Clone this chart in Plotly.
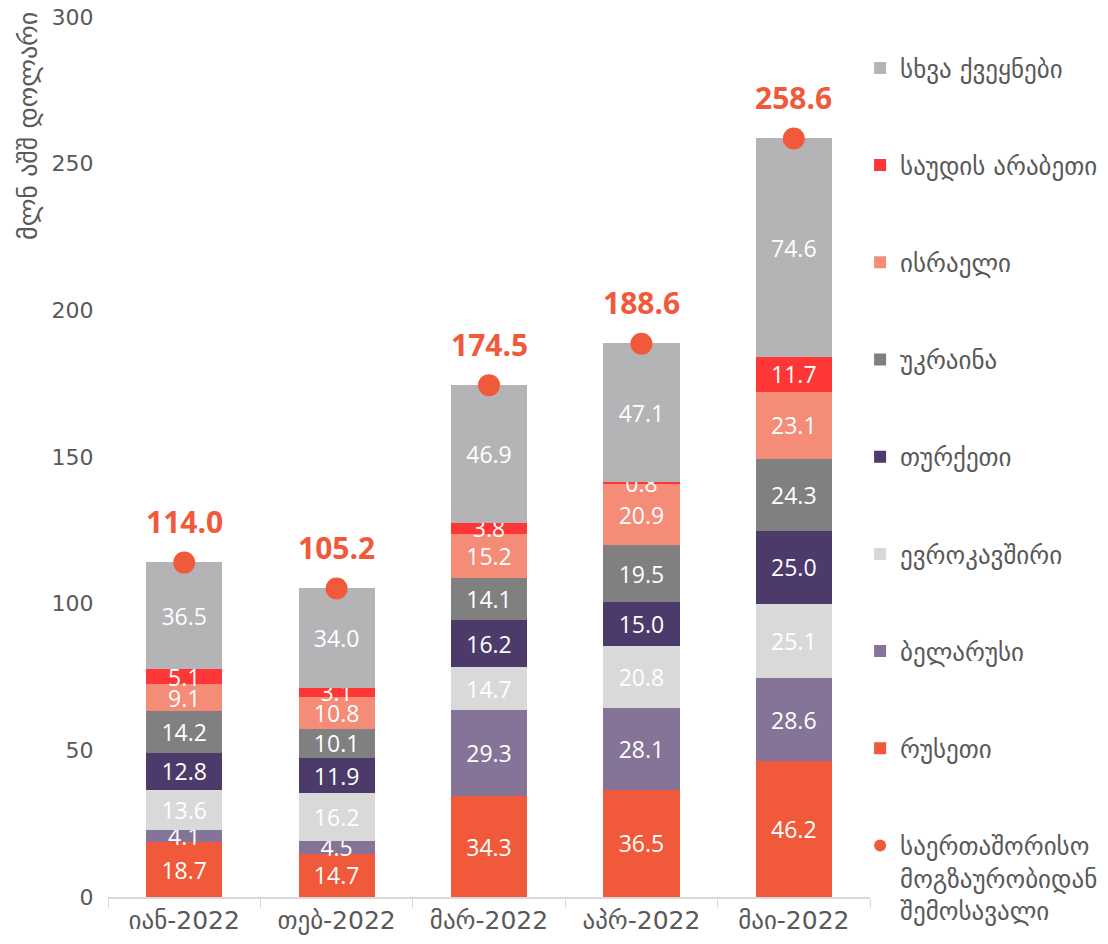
import plotly.graph_objects as go

months = ["იან-2022", "თებ-2022", "მარ-2022", "აპრ-2022", "მაი-2022"]

russia = [18.7, 14.7, 34.3, 36.5, 46.2]
belarus = [4.1, 4.5, 29.3, 28.1, 28.6]
eu = [13.6, 16.2, 14.7, 20.8, 25.1]
turkey = [12.8, 11.9, 16.2, 15.0, 25.0]
ukraine = [14.2, 10.1, 14.1, 19.5, 24.3]
israel = [9.1, 10.8, 15.2, 20.9, 23.1]
saudi = [5.1, 3.1, 3.8, 0.8, 11.7]
other = [36.5, 34.0, 46.9, 47.1, 74.6]
total = [114.0, 105.2, 174.5, 188.6, 258.6]

series = [
    ("რუსეთი", russia, "#F05A3A"),
    ("ბელარუსი", belarus, "#857497"),
    ("ევროკავშირი", eu, "#D9D9D9"),
    ("თურქეთი", turkey, "#4B3A6A"),
    ("უკრაინა", ukraine, "#808080"),
    ("ისრაელი", israel, "#F48C78"),
    ("საუდის არაბეთი", saudi, "#FF3636"),
    ("სხვა ქვეყნები", other, "#B4B4B6"),
]
total_name = "საერთაშორისო<br>მოგზაურობიდან<br>შემოსავალი"
y_title = "მლნ აშშ დოლარი"

FONT = "Open Sans, DejaVu Sans, sans-serif"
GEO = "DejaVu Sans, sans-serif"

fig = go.Figure()

n = len(series)
for i, (name, vals, col) in enumerate(series):
    fig.add_trace(go.Bar(
        x=months, y=vals, name=name, legendgroup=name,
        legendrank=100 + (n - i) * 10,
        marker=dict(color=col, line=dict(width=0)),
        text=[f"{v:.1f}" for v in vals],
        textposition="inside", insidetextanchor="middle",
        textangle=0, constraintext="none",
        textfont=dict(color="white", size=23, family=FONT),
    ))

fig.add_trace(go.Scatter(
    x=months, y=total, name=total_name, mode="markers",
    marker=dict(color="#F05A3A", size=22),
    legendgroup="total", legendrank=1000, cliponaxis=False,
))

for m, t in zip(months, total):
    fig.add_annotation(
        x=m, y=t, text=f"<b>{t:.1f}</b>", showarrow=False,
        yshift=41, font=dict(color="#F05A3A", size=30, family=FONT),
    )

fig.add_annotation(
    xref="paper", yref="paper", x=-0.105, y=1.008, xanchor="center", yanchor="top",
    text=y_title, textangle=-90, showarrow=False,
    font=dict(color="#595959", size=26, family=GEO),
)

fig.update_layout(
    width=1108, height=944,
    barmode="stack", bargap=0.5,
    plot_bgcolor="white", paper_bgcolor="white",
    margin=dict(l=108, r=238, t=17, b=47, autoexpand=False),
    font=dict(family=GEO, color="#595959", size=20),
    showlegend=True,
    legend=dict(
        x=0.987, xanchor="left", y=0.968, yanchor="top",
        traceorder="grouped", tracegroupgap=61.7,
        font=dict(family=GEO, size=25, color="#595959"),
        valign="top", bgcolor="rgba(0,0,0,0)",
        itemsizing="constant", maxheight=944,
    ),
    xaxis=dict(
        showline=True, linecolor="#D9D9D9", linewidth=1.5,
        ticks="outside", tickson="boundaries", ticklen=9, tickcolor="#D9D9D9",
        tickfont=dict(family=GEO, size=25, color="#595959"),
        showgrid=False,
    ),
    yaxis=dict(
        range=[0, 300], dtick=50, showgrid=False, showline=False, zeroline=False,
        ticks="outside", ticklen=9, tickcolor="rgba(0,0,0,0)",
        ticklabeloverflow="allow",
        tickfont=dict(family=GEO, size=22, color="#595959"),
    ),
)

fig.write_html(
    "out.html",
    config={"displayModeBar": False},
    post_script="document.body.style.margin='0px';",
)
